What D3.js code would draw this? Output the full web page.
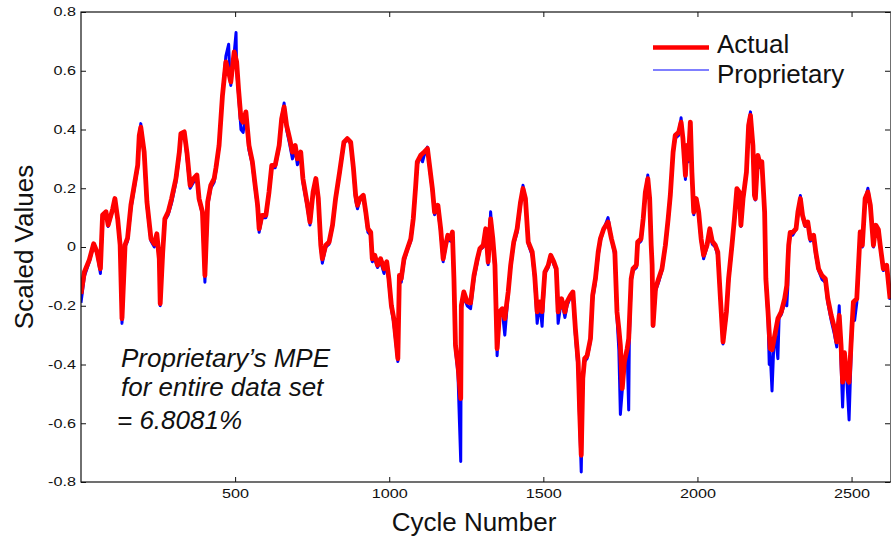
<!DOCTYPE html>
<html>
<head>
<meta charset="utf-8">
<script src="https://cdn.jsdelivr.net/npm/d3@7"></script>
<style>
  html, body { margin: 0; padding: 0; background: #fff; }
  svg { display: block; font-family: "Liberation Sans", Arial, Helvetica, sans-serif; }
</style>
</head>
<body>
<div id="chart"></div>
<script>
// ---- data (cycle, scaled value) ----
const actual = [
  [0,-0.16],[11,-0.085],[27,-0.044],[41,0.011],[52,-0.017],[63,-0.074],[70,0.109],[81,0.12],[88,0.075],[103,0.13],
  [110,0.165],[119,0.096],[127,0.007],[133,-0.244],[143,0.007],[151,0.03],[162,0.143],[173,0.211],[184,0.279],[189,0.38],
  [194,0.408],[205,0.323],[214,0.153],[227,0.028],[238,0.01],[246,0.045],[254,-0.04],[257,-0.193],[265,-0.02],[272,0.096],
  [283,0.12],[294,0.165],[308,0.233],[319,0.323],[324,0.386],[335,0.392],[344,0.32],[354,0.21],[365,0.233],[376,0.245],
  [383,0.165],[394,0.12],[402,-0.097],[411,0.153],[421,0.21],[432,0.233],[438,0.27],[448,0.346],[459,0.516],[470,0.63],
  [479,0.596],[486,0.562],[497,0.664],[505,0.63],[511,0.539],[519,0.437],[526,0.425],[535,0.46],[545,0.346],[556,0.29],
  [565,0.21],[573,0.142],[578,0.062],[587,0.108],[600,0.108],[610,0.187],[619,0.278],[630,0.278],[643,0.346],[651,0.437],
  [659,0.477],[667,0.414],[677,0.369],[686,0.323],[695,0.346],[702,0.30],[713,0.323],[720,0.233],[735,0.142],[743,0.085],
  [753,0.187],[762,0.233],[770,0.165],[778,0.006],[783,-0.04],[794,0.006],[805,0.017],[816,0.074],[826,0.165],[839,0.255],
  [853,0.357],[864,0.369],[875,0.357],[884,0.267],[891,0.176],[897,0.142],[905,0.165],[916,0.176],[924,0.119],[931,0.062],
  [940,0.05],[945,-0.04],[953,-0.028],[962,-0.062],[972,-0.04],[983,-0.074],[992,-0.05],[999,-0.108],[1007,-0.199],[1015,-0.244],
  [1024,-0.335],[1028,-0.38],[1033,-0.097],[1039,-0.108],[1048,-0.04],[1059,-0.006],[1070,0.028],[1078,0.096],[1086,0.21],[1091,0.29],
  [1102,0.312],[1113,0.323],[1124,0.335],[1132,0.267],[1140,0.199],[1147,0.119],[1158,0.142],[1167,0.062],[1175,-0.04],[1183,0.006],
  [1190,0.04],[1199,0.028],[1205,0.051],[1210,-0.108],[1215,-0.335],[1223,-0.403],[1232,-0.516],[1234,-0.199],[1242,-0.153],[1253,-0.187],
  [1264,-0.19],[1275,-0.097],[1286,-0.04],[1294,-0.006],[1305,0.006],[1313,0.062],[1321,-0.051],[1329,0.096],[1336,0.03],[1343,-0.062],
  [1350,-0.346],[1358,-0.221],[1367,-0.21],[1375,-0.244],[1386,-0.153],[1394,-0.062],[1404,0.017],[1415,0.062],[1426,0.153],[1434,0.199],
  [1442,0.165],[1451,0.017],[1464,-0.017],[1472,-0.097],[1480,-0.221],[1488,-0.187],[1496,-0.22],[1505,-0.085],[1516,-0.062],[1524,-0.028],
  [1534,-0.05],[1542,-0.074],[1548,-0.221],[1559,-0.176],[1570,-0.221],[1577,-0.187],[1588,-0.165],[1596,-0.153],[1604,-0.278],[1613,-0.391],
  [1618,-0.562],[1623,-0.709],[1628,-0.448],[1634,-0.38],[1642,-0.37],[1653,-0.312],[1660,-0.165],[1669,-0.108],[1678,-0.017],[1685,0.028],
  [1696,0.062],[1710,0.085],[1721,0.028],[1732,-0.017],[1739,-0.221],[1745,-0.278],[1750,-0.335],[1756,-0.482],[1763,-0.391],[1772,-0.346],
  [1777,-0.312],[1785,-0.108],[1791,-0.074],[1802,-0.062],[1806,0.017],[1817,0.028],[1824,0.096],[1831,0.187],[1839,0.233],[1845,0.165],
  [1850,0.006],[1853,-0.062],[1856,-0.267],[1864,-0.142],[1874,-0.108],[1885,-0.074],[1896,0.006],[1905,0.096],[1912,0.176],[1921,0.323],
  [1928,0.38],[1939,0.39],[1947,0.425],[1953,0.369],[1961,0.244],[1966,0.346],[1971,0.30],[1977,0.425],[1982,0.255],[1988,0.119],
  [1996,0.165],[2004,0.119],[2012,0.028],[2020,-0.028],[2031,0.006],[2040,0.062],[2048,0.02],[2058,0.006],[2066,-0.017],[2074,-0.165],
  [2083,-0.323],[2094,-0.221],[2101,-0.108],[2112,0.006],[2120,0.096],[2128,0.199],[2136,0.187],[2141,0.074],[2148,0.165],[2159,0.255],
  [2166,0.414],[2172,0.448],[2180,0.346],[2185,0.176],[2188,0.165],[2196,0.312],[2204,0.278],[2209,0.29],[2218,0.119],[2222,-0.108],
  [2229,-0.221],[2236,-0.346],[2242,-0.35],[2253,-0.289],[2261,-0.244],[2272,-0.221],[2283,-0.176],[2290,-0.131],[2296,0.006],[2301,0.05],
  [2309,0.05],[2320,0.062],[2326,0.119],[2334,0.165],[2341,0.108],[2350,0.074],[2358,0.085],[2366,0.028],[2377,0.04],[2384,-0.017],
  [2393,-0.074],[2404,-0.097],[2415,-0.108],[2423,-0.176],[2434,-0.233],[2445,-0.278],[2452,-0.323],[2460,-0.233],[2466,-0.335],[2471,-0.46],
  [2477,-0.36],[2485,-0.448],[2492,-0.46],[2501,-0.278],[2506,-0.187],[2517,-0.176],[2522,-0.074],[2528,0.051],[2535,0.006],[2544,0.165],
  [2553,0.187],[2561,0.142],[2571,0.006],[2579,0.074],[2587,0.06],[2593,0.006],[2603,-0.074],[2614,-0.062],[2625,-0.176]
];

const proprietary = [
  [0,-0.19],[11,-0.1],[27,-0.05],[41,0.005],[52,-0.02],[63,-0.09],[70,0.1],[81,0.115],[88,0.07],[103,0.125],
  [110,0.16],[119,0.09],[127,0.0],[133,-0.26],[143,0.0],[151,0.02],[162,0.13],[173,0.2],[184,0.27],[189,0.37],
  [194,0.42],[205,0.31],[214,0.14],[227,0.02],[238,0.0],[246,0.04],[254,-0.05],[257,-0.2],[265,-0.03],[272,0.09],
  [283,0.11],[294,0.15],[308,0.22],[319,0.31],[324,0.37],[335,0.39],[344,0.3],[354,0.2],[365,0.22],[376,0.23],
  [383,0.16],[394,0.11],[402,-0.12],[411,0.14],[421,0.2],[432,0.22],[438,0.26],[448,0.34],[459,0.52],[470,0.65],
  [479,0.69],[483,0.58],[486,0.55],[492,0.62],[497,0.66],[503,0.73],[505,0.6],[511,0.52],[519,0.4],[526,0.39],
  [535,0.45],[545,0.33],[556,0.28],[565,0.2],[573,0.13],[578,0.05],[587,0.1],[600,0.1],[610,0.18],[619,0.27],
  [630,0.27],[643,0.34],[651,0.44],[659,0.49],[667,0.4],[677,0.35],[686,0.3],[695,0.33],[702,0.28],[713,0.31],
  [720,0.22],[735,0.13],[743,0.075],[753,0.18],[762,0.22],[770,0.15],[778,0.0],[783,-0.055],[794,0.0],[805,0.01],
  [816,0.07],[826,0.16],[839,0.25],[853,0.35],[864,0.37],[875,0.35],[884,0.26],[891,0.16],[897,0.13],[905,0.16],
  [916,0.17],[924,0.11],[931,0.05],[940,0.04],[945,-0.05],[953,-0.04],[962,-0.07],[972,-0.05],[983,-0.09],[992,-0.06],
  [999,-0.12],[1007,-0.21],[1015,-0.26],[1024,-0.35],[1028,-0.39],[1033,-0.1],[1039,-0.12],[1048,-0.05],[1059,-0.01],[1070,0.02],
  [1078,0.09],[1086,0.2],[1091,0.28],[1102,0.31],[1108,0.29],[1113,0.31],[1124,0.34],[1132,0.26],[1140,0.19],[1147,0.11],
  [1158,0.13],[1167,0.05],[1175,-0.05],[1183,0.0],[1190,0.03],[1199,0.02],[1205,0.04],[1210,-0.12],[1215,-0.35],[1223,-0.43],
  [1228,-0.6],[1232,-0.73],[1234,-0.21],[1242,-0.17],[1253,-0.2],[1264,-0.21],[1275,-0.11],[1286,-0.05],[1294,-0.01],[1305,0.0],
  [1313,0.05],[1321,-0.06],[1329,0.12],[1336,0.02],[1343,-0.08],[1350,-0.37],[1358,-0.23],[1367,-0.22],[1375,-0.3],[1386,-0.16],
  [1394,-0.07],[1404,0.01],[1415,0.05],[1426,0.14],[1434,0.21],[1442,0.16],[1451,0.01],[1464,-0.03],[1472,-0.11],[1480,-0.26],
  [1488,-0.19],[1496,-0.27],[1505,-0.09],[1516,-0.07],[1524,-0.03],[1534,-0.06],[1542,-0.08],[1548,-0.26],[1559,-0.18],[1570,-0.24],
  [1577,-0.2],[1588,-0.17],[1596,-0.16],[1604,-0.3],[1613,-0.42],[1618,-0.6],[1623,-0.766],[1628,-0.46],[1634,-0.39],[1642,-0.38],
  [1653,-0.32],[1660,-0.18],[1669,-0.12],[1678,-0.03],[1685,0.02],[1696,0.06],[1710,0.1],[1721,0.03],[1732,-0.03],[1739,-0.24],
  [1745,-0.35],[1750,-0.57],[1756,-0.49],[1763,-0.4],[1772,-0.36],[1777,-0.555],[1779,-0.32],[1785,-0.12],[1791,-0.08],[1802,-0.07],
  [1806,0.01],[1817,0.02],[1824,0.09],[1831,0.18],[1839,0.245],[1845,0.16],[1850,0.0],[1853,-0.07],[1856,-0.27],[1864,-0.15],
  [1874,-0.12],[1885,-0.08],[1896,0.0],[1905,0.09],[1912,0.17],[1921,0.32],[1928,0.37],[1939,0.38],[1947,0.44],[1953,0.36],
  [1961,0.23],[1966,0.34],[1971,0.29],[1977,0.42],[1982,0.25],[1988,0.11],[1996,0.16],[2004,0.11],[2012,0.02],[2020,-0.04],
  [2031,0.0],[2040,0.05],[2048,0.01],[2058,0.0],[2066,-0.03],[2074,-0.17],[2083,-0.33],[2094,-0.23],[2101,-0.12],[2112,0.0],
  [2120,0.09],[2128,0.19],[2136,0.18],[2141,0.07],[2148,0.16],[2159,0.25],[2166,0.42],[2172,0.46],[2180,0.34],[2185,0.17],
  [2188,0.16],[2196,0.31],[2204,0.27],[2209,0.28],[2218,0.11],[2222,-0.12],[2229,-0.24],[2233,-0.4],[2236,-0.36],[2242,-0.49],
  [2248,-0.33],[2253,-0.3],[2261,-0.38],[2265,-0.24],[2272,-0.23],[2283,-0.19],[2290,-0.2],[2293,-0.14],[2296,0.0],[2301,0.04],
  [2309,0.04],[2320,0.06],[2326,0.11],[2334,0.175],[2341,0.1],[2350,0.07],[2358,0.08],[2366,0.02],[2377,0.03],[2384,-0.03],
  [2393,-0.08],[2404,-0.11],[2415,-0.12],[2423,-0.19],[2434,-0.25],[2445,-0.3],[2452,-0.34],[2460,-0.2],[2466,-0.4],[2471,-0.545],
  [2477,-0.37],[2485,-0.46],[2492,-0.589],[2501,-0.29],[2506,-0.2],[2510,-0.25],[2517,-0.19],[2522,-0.08],[2528,0.04],[2535,0.0],
  [2544,0.16],[2553,0.2],[2561,0.14],[2571,0.0],[2579,0.07],[2587,0.05],[2593,0.0],[2603,-0.08],[2614,-0.07],[2625,-0.18]
];

const xTicks = [500, 1000, 1500, 2000, 2500];
const yTicks = [-0.8, -0.6, -0.4, -0.2, 0, 0.2, 0.4, 0.6, 0.8];
const seriesNames = ["Actual", "Proprietary"];
const seriesColors = ["#ff0000", "#0000ff"];
const noteLines = ["Proprietary\u2019s MPE", "for entire data set", "= 6.8081%"];

// ---- layout ----
const W = 891, H = 538;
const plot = { left: 81, right: 891, top: 12, bottom: 482 };
const labelStretch = 1.35;   // tick labels in the original are rendered wide

const svg = d3.select("#chart").append("svg")
  .attr("width", W).attr("height", H);

const x = d3.scaleLinear().domain([0, 2628]).range([plot.left, plot.right]);
const y = d3.scaleLinear().domain([-0.8, 0.8]).range([plot.bottom, plot.top]);

svg.append("clipPath").attr("id", "clip")
  .append("rect")
  .attr("x", plot.left).attr("y", plot.top)
  .attr("width", plot.right - plot.left).attr("height", plot.bottom - plot.top);

const line = d3.line().x(d => x(d[0])).y(d => y(d[1]));

const lines = svg.append("g").attr("clip-path", "url(#clip)");

// proprietary underneath, actual on top
lines.append("path").datum(proprietary)
  .attr("d", line)
  .attr("fill", "none")
  .attr("stroke", seriesColors[1])
  .attr("stroke-width", 3)
  .attr("stroke-linejoin", "round");

lines.append("path").datum(actual)
  .attr("d", line)
  .attr("fill", "none")
  .attr("stroke", seriesColors[0])
  .attr("stroke-width", 4.8)
  .attr("stroke-linejoin", "round");

// axes box with inward ticks (MATLAB look)
const tickLen = 5;
const axisColor = "#111";

const xBottom = d3.axisBottom(x).tickValues(xTicks).tickSizeInner(-tickLen).tickSizeOuter(0)
  .tickPadding(7).tickFormat(d3.format("d"));
const gx = svg.append("g").attr("transform", `translate(0,${plot.bottom})`).call(xBottom);
gx.select(".domain").remove();
gx.selectAll("line").attr("stroke", axisColor);
gx.selectAll("text")
  .attr("fill", "#111")
  .style("font-size", "12px")
  .attr("transform", `scale(${labelStretch},1)`);

const xTop = d3.axisTop(x).tickValues(xTicks).tickSizeInner(-tickLen).tickSizeOuter(0).tickFormat("");
const gxt = svg.append("g").attr("transform", `translate(0,${plot.top})`).call(xTop);
gxt.select(".domain").remove();
gxt.selectAll("line").attr("stroke", axisColor);

const yLeft = d3.axisLeft(y).tickValues(yTicks).tickSizeInner(-tickLen).tickSizeOuter(0)
  .tickFormat(d => String(+d.toFixed(1)));
const gy = svg.append("g").attr("transform", `translate(${plot.left},0)`).call(yLeft);
gy.select(".domain").remove();
gy.selectAll("line").attr("stroke", axisColor);
gy.selectAll("text")
  .attr("fill", "#111")
  .style("font-size", "12px")
  .attr("x", -5 / labelStretch)
  .attr("transform", `scale(${labelStretch},1)`);

const yRight = d3.axisRight(y).tickValues(yTicks).tickSizeInner(-tickLen).tickSizeOuter(0).tickFormat("");
const gyr = svg.append("g").attr("transform", `translate(${plot.right - 1},0)`).call(yRight);
gyr.select(".domain").remove();
gyr.selectAll("line").attr("stroke", axisColor);

svg.append("rect")
  .attr("x", plot.left).attr("y", plot.top)
  .attr("width", plot.right - plot.left).attr("height", plot.bottom - plot.top)
  .attr("fill", "none")
  .attr("stroke", axisColor)
  .attr("stroke-width", 1.2);

// axis titles
svg.append("text")
  .attr("x", 474).attr("y", 531)
  .attr("text-anchor", "middle")
  .style("font-size", "26px")
  .attr("fill", "#111")
  .text("Cycle Number");

svg.append("text")
  .attr("transform", "translate(33,247) rotate(-90)")
  .attr("text-anchor", "middle")
  .style("font-size", "26px")
  .attr("fill", "#111")
  .text("Scaled Values");

// legend
const legend = svg.append("g");
const legendRows = [
  { y: 47.5, w: 4.5, textY: 53 },
  { y: 70, w: 1.2, textY: 83 }
];
seriesNames.forEach((name, i) => {
  legend.append("line")
    .attr("x1", 653).attr("x2", 709)
    .attr("y1", legendRows[i].y).attr("y2", legendRows[i].y)
    .attr("stroke", seriesColors[i])
    .attr("stroke-width", legendRows[i].w);
  legend.append("text")
    .attr("x", 717).attr("y", legendRows[i].textY)
    .style("font-size", "26px")
    .attr("fill", "#111")
    .text(name);
});

// annotation
const noteX = [121, 121, 117];
const noteY = [367, 396, 429];
noteLines.forEach((t, i) => {
  svg.append("text")
    .attr("x", noteX[i]).attr("y", noteY[i])
    .style("font-size", "26px")
    .style("font-style", "italic")
    .attr("fill", "#111")
    .text(t);
});
</script>
</body>
</html>
